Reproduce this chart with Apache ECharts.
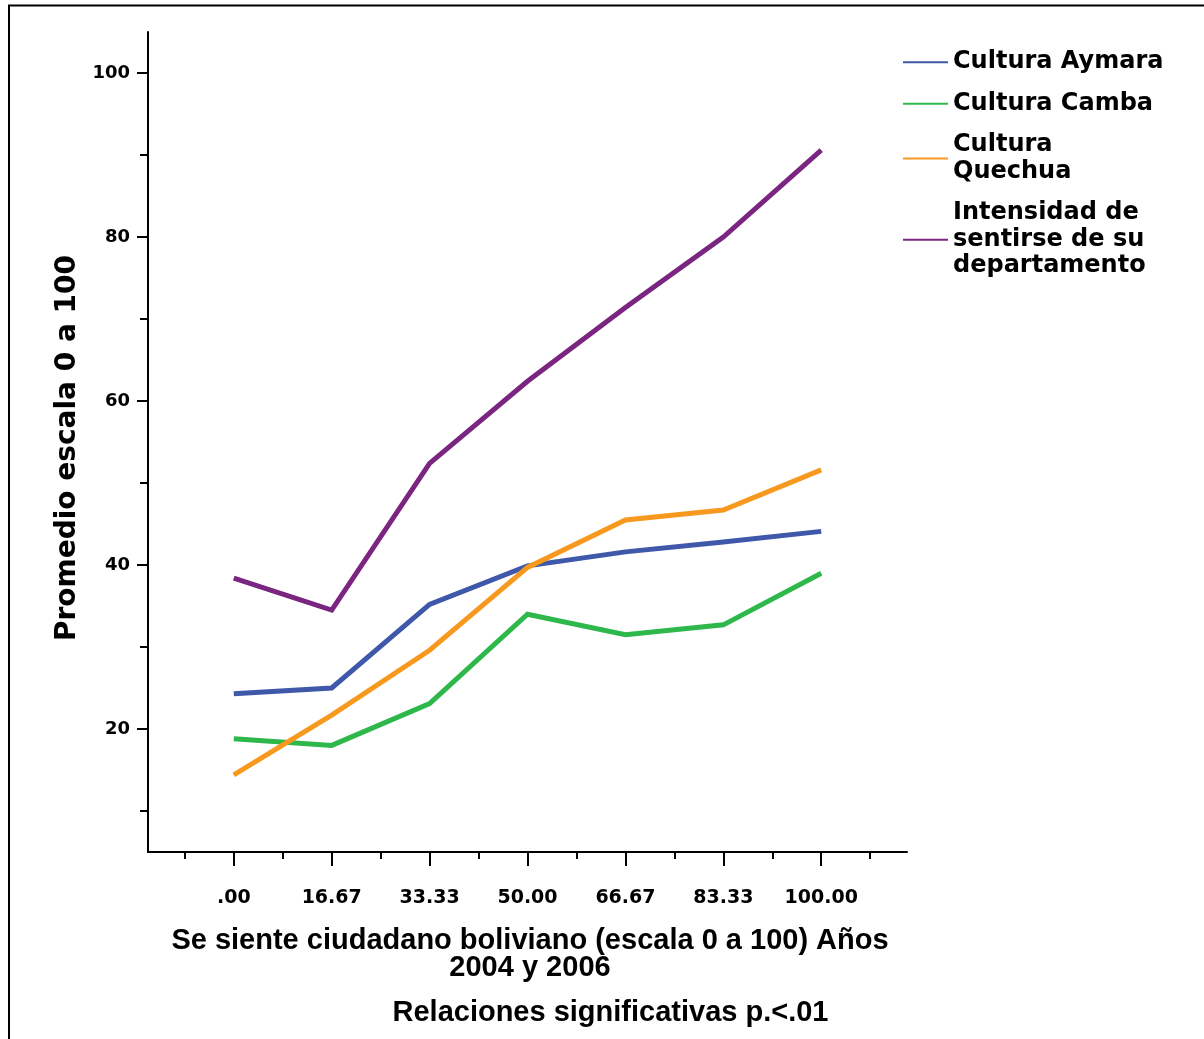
<!DOCTYPE html>
<html>
<head>
<meta charset="utf-8">
<script src="https://cdn.jsdelivr.net/npm/echarts@6/dist/echarts.min.js"></script>
<style>html,body{margin:0;padding:0;background:#fff}#c{width:1204px;height:1039px}</style>
</head>
<body>
<div id="c"></div>
<script>
// Data
const xValues = [0, 16.67, 33.33, 50, 66.67, 83.33, 100];
const xTickLabels = ['.00', '16.67', '33.33', '50.00', '66.67', '83.33', '100.00'];
const xMinorTicks = [-8.33, 8.33, 25, 41.67, 58.33, 75, 91.67, 108.33];
const yTicks = [20, 40, 60, 80, 100];
const yMinorTicks = [10, 30, 50, 70, 90];

const seriesNames = ['Cultura Aymara', 'Cultura Camba', 'Cultura Quechua', 'Intensidad de sentirse de su departamento'];
const legendLabels = ['Cultura Aymara', 'Cultura Camba', 'Cultura\nQuechua', 'Intensidad de\nsentirse de su\ndepartamento'];
const aymara = [24.3, 25.0, 35.2, 39.9, 41.6, 42.8, 44.1];
const camba = [18.8, 18.0, 23.1, 34.0, 31.5, 32.7, 39.0];
const quechua = [14.4, 21.7, 29.6, 39.7, 45.5, 46.7, 51.6];
const intensidad = [38.4, 34.5, 52.4, 62.4, 71.4, 80.0, 90.6];
const colors = ['#3f58a9', '#2eb84b', '#f8991f', '#7a2680'];

const xTitle = 'Se siente ciudadano boliviano (escala 0 a 100) Años\n2004 y 2006';
const subTitle = 'Relaciones significativas p.<.01';
const yTitle = 'Promedio escala 0 a 100';

const allData = [aymara, camba, quechua, intensidad];
const chart = echarts.init(document.getElementById('c'), null, {renderer: 'canvas'});

const labelMap = {};
xValues.forEach((v, i) => labelMap[v] = xTickLabels[i]);

const option = {
  animation: false,
  backgroundColor: '#fff',
  grid: {left: 148, top: 32, right: 297, bottom: 187, containLabel: false},
  xAxis: [
    {
      type: 'value', min: -14.6, max: 114.6, position: 'bottom',
      splitLine: {show: false},
      axisLine: {show: true, onZero: false, lineStyle: {color: '#000', width: 2}},
      axisTick: {show: true, customValues: xValues, length: 14, lineStyle: {color: '#000', width: 2}},
      axisLabel: {
        customValues: xValues, margin: 37, color: '#000',
        fontFamily: 'DejaVu Sans', fontWeight: 'bold', fontSize: 19,
        formatter: v => labelMap[v] !== undefined ? labelMap[v] : ''
      }
    },
    {
      type: 'value', min: -14.6, max: 114.6, position: 'bottom', gridIndex: 0,
      splitLine: {show: false},
      axisLine: {show: false, onZero: false},
      axisTick: {show: true, customValues: xMinorTicks, length: 7, lineStyle: {color: '#000', width: 2}},
      axisLabel: {show: false}
    }
  ],
  yAxis: [
    {
      type: 'value', min: 5, max: 105, position: 'left',
      splitLine: {show: false},
      axisLine: {show: true, onZero: false, lineStyle: {color: '#000', width: 2}},
      axisTick: {show: true, customValues: yTicks, length: 11, lineStyle: {color: '#000', width: 2}},
      axisLabel: {
        customValues: yTicks, margin: 18, color: '#000',
        fontFamily: 'DejaVu Sans', fontWeight: 'bold', fontSize: 18
      }
    },
    {
      type: 'value', min: 5, max: 105, position: 'left', gridIndex: 0,
      splitLine: {show: false},
      axisLine: {show: false, onZero: false},
      axisTick: {show: true, customValues: yMinorTicks, length: 8, lineStyle: {color: '#000', width: 2}},
      axisLabel: {show: false}
    }
  ],
  legend: {
    orient: 'vertical', left: 903, top: 49, padding: 0,
    itemWidth: 45, itemHeight: 2, itemGap: 15, icon: 'rect',
    data: seriesNames,
    formatter: name => legendLabels[seriesNames.indexOf(name)],
    textStyle: {color: '#000', fontFamily: 'DejaVu Sans', fontWeight: 'bold', fontSize: 24, lineHeight: 26.5}
  },
  graphic: [
    {type: 'rect', shape: {x: 9, y: 5.5, width: 1400, height: 1200}, style: {fill: 'none', stroke: '#000', lineWidth: 2}, z: 100},
    {type: 'text', x: 68, y: 448, rotation: Math.PI / 2,
      style: {text: yTitle, fontFamily: 'DejaVu Sans', fontWeight: 'bold', fontSize: 28, fill: '#000', align: 'center', verticalAlign: 'middle'}},
    {type: 'text', x: 530, y: 954,
      style: {text: xTitle, fontFamily: 'Liberation Sans', fontWeight: 'bold', fontSize: 29, lineHeight: 27, fill: '#000', align: 'center', verticalAlign: 'middle'}},
    {type: 'text', x: 610.5, y: 1013,
      style: {text: subTitle, fontFamily: 'Liberation Sans', fontWeight: 'bold', fontSize: 29, fill: '#000', align: 'center', verticalAlign: 'middle'}}
  ],
  series: seriesNames.map((name, i) => ({
    name, type: 'line', xAxisIndex: 0, yAxisIndex: 0,
    data: xValues.map((x, j) => [x, allData[i][j]]),
    showSymbol: false, symbol: 'none',
    color: colors[i],
    lineStyle: {color: colors[i], width: 5, cap: 'butt', join: 'miter'},
    emphasis: {disabled: true}
  }))
};
chart.setOption(option);
</script>
</body>
</html>
